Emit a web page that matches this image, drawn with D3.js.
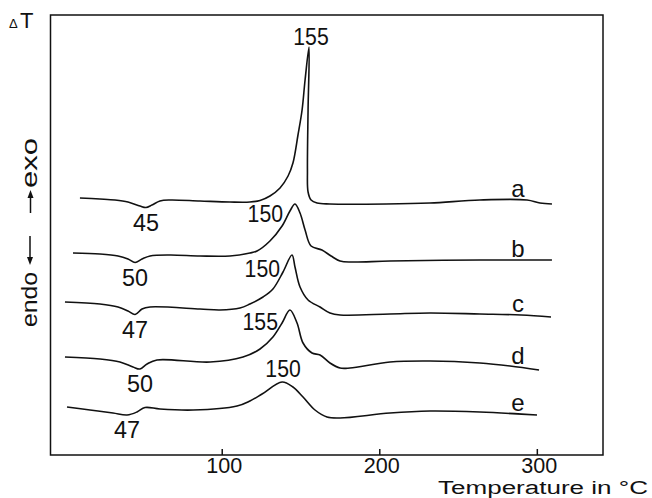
<!DOCTYPE html>
<html>
<head>
<meta charset="utf-8">
<script src="https://cdn.jsdelivr.net/npm/d3@7/dist/d3.min.js"></script>
<style>
  body { margin: 0; background: #fff; }
  svg text { font-family: "Liberation Sans", Arial, sans-serif; fill: #111; }
</style>
</head>
<body>
<div id="chart"></div>
<script>
var width = 652,
    height = 498;

// DTA traces: [temperature in °C, ΔT in arbitrary units incl. vertical offset]
var curveA = [[10,25.7],[22.7,25.6],[32.3,25.5],[40.5,25.3],[48.1,24.9],[51.9,24.75],[55.7,25.0],[60.8,25.4],
  [67.2,25.5],[86.2,25.4],[105.2,25.3],[117.9,25.3],[124.3,25.45],[130.6,25.9],[137.0,26.7],[142.1,27.9],
  [145.2,29.2],[148.4,32.0],[151.0,34.5],[152.9,37.5],[155.4,40.8],[154.8,34.5],[154.4,28.5],[154.8,26.3],
  [156.7,25.5],[160.5,25.2],[168.7,25.1],[204.3,25.1],[232.2,25.2],[263.9,25.5],[293.8,25.5],[302.0,25.2],[309.6,25.1]];
var curveB = [[5.6,20.2],[22.7,20.1],[34.2,19.9],[40.5,19.6],[45.0,19.25],[49.4,19.6],[54.5,19.9],[67.2,20.0],
  [86.2,19.9],[105.2,19.9],[117.9,20.2],[122.4,20.4],[130.6,21.4],[138.3,22.9],[143.3,24.4],[146.5,25.1],
  [149.7,24.2],[152.9,22.5],[156.7,20.9],[163.6,20.5],[169.4,19.9],[175.1,19.4],[182.7,19.3],[206.8,19.4],
  [263.9,19.5],[309.6,19.5]];
var curveC = [[0.5,15.3],[22.7,15.1],[34.2,14.8],[40.5,14.4],[45.0,14.05],[49.4,14.6],[54.5,14.8],[86.2,14.6],
  [98.9,14.5],[111.6,14.7],[117.9,15.1],[126.2,15.8],[132.5,16.6],[138.9,18.3],[144.6,20.0],[146.5,18.8],
  [149.7,16.8],[154.8,15.5],[162.4,14.8],[168.7,14.2],[175.1,14.0],[206.8,14.1],[232.2,14.2],[263.9,14.1],
  [290.0,14.0],[309.0,13.8]];
var curveD = [[0.5,9.8],[22.7,9.6],[35.4,9.3],[43.7,8.8],[48.1,8.6],[52.6,9.1],[58.9,9.5],[92.6,9.3],
  [113.5,9.8],[124.3,10.6],[132.5,11.8],[138.3,13.2],[143.3,14.5],[147.8,13.2],[151.6,11.2],[157.3,10.2],
  [162.4,10.0],[168.7,9.2],[175.1,8.7],[181.4,8.7],[206.8,9.3],[232.2,9.4],[263.9,9.2],[283.0,8.9],[301.4,8.5]];
var curveE = [[1.8,4.8],[16.4,4.5],[31.0,4.2],[39.9,4.0],[46.2,4.3],[51.3,4.75],[60.8,4.6],[81.8,4.5],
  [109.7,4.9],[117.9,5.4],[125.6,6.1],[138.3,7.3],[145.2,6.8],[151.6,5.8],[159.2,4.5],[166.8,3.8],
  [175.1,3.7],[206.8,4.2],[232.2,4.4],[263.9,4.3],[300.1,4.0]];

var curves = [curveA, curveB, curveC, curveD, curveE];
var curveNames = ["a", "b", "c", "d", "e"];
var peakLabels = ["155", "150", "150", "155", "150"];
var dipLabels = ["45", "50", "47", "50", "47"];
var xTicks = [100, 200, 300];

// label placement relative to the peak point [dx, dy, anchor]
var peakOffsets = [[2, -2, "middle"], [-12, 18, "end"], [-12, 22, "end"], [-12, 20, "end"], [1, -5, "middle"]];

var x = d3.scaleLinear().domain([-9, 342]).range([50, 603]);
var y = d3.scaleLinear().domain([0, 44]).range([455, 15]);

var svg = d3.select("#chart").append("svg")
    .attr("width", width)
    .attr("height", height);

// frame
svg.append("rect")
    .attr("x", 50.5).attr("y", 15)
    .attr("width", 552.5).attr("height", 440)
    .attr("fill", "none")
    .attr("stroke", "#111")
    .attr("stroke-width", 1.5);

// x axis with inward ticks
var xAxis = svg.append("g")
    .attr("transform", "translate(0,455)")
    .call(d3.axisBottom(x).tickValues(xTicks).tickSizeInner(-6).tickSizeOuter(0).tickPadding(2));
xAxis.select(".domain").remove();
xAxis.selectAll(".tick line").attr("stroke", "#111").attr("stroke-width", 1.5);
xAxis.selectAll(".tick text")
    .attr("font-size", 22)
    .attr("font-family", null)
    .attr("fill", "#111")
    .attr("dx", 2)
    .attr("textLength", 36)
    .attr("lengthAdjust", "spacingAndGlyphs");

svg.append("text")
    .attr("x", 438).attr("y", 494)
    .attr("font-size", 18)
    .attr("textLength", 210)
    .attr("lengthAdjust", "spacingAndGlyphs")
    .text("Temperature in °C");

// y axis annotation
svg.append("text").attr("x", 9).attr("y", 28).attr("font-size", 13).text("Δ");
svg.append("text").attr("x", 20).attr("y", 28).attr("font-size", 22).text("T");

svg.append("text")
    .attr("transform", "translate(37,188) rotate(-90)")
    .attr("font-size", 22)
    .attr("textLength", 50)
    .attr("lengthAdjust", "spacingAndGlyphs")
    .text("exo");
svg.append("text")
    .attr("transform", "translate(37,327) rotate(-90)")
    .attr("font-size", 22)
    .attr("textLength", 55)
    .attr("lengthAdjust", "spacingAndGlyphs")
    .text("endo");

// arrows
svg.append("line").attr("x1", 30.5).attr("x2", 30.5).attr("y1", 213).attr("y2", 196)
    .attr("stroke", "#111").attr("stroke-width", 1.5);
svg.append("path").attr("d", "M30.5,190 L27.5,198 L33.5,198 Z").attr("fill", "#111");
svg.append("line").attr("x1", 30).attr("x2", 30).attr("y1", 236).attr("y2", 258)
    .attr("stroke", "#111").attr("stroke-width", 1.5);
svg.append("path").attr("d", "M30,265 L27,257 L33,257 Z").attr("fill", "#111");

var line = d3.line()
    .x(function(d) { return x(d[0]); })
    .y(function(d) { return y(d[1]); })
    .curve(d3.curveCatmullRom.alpha(0.5));

function valueAt(data, t) {
    for (var i = data.length - 1; i > 0; i--) {
        var p = data[i - 1], q = data[i];
        if (t >= p[0] && t <= q[0]) {
            return p[1] + (q[1] - p[1]) * (t - p[0]) / (q[0] - p[0]);
        }
    }
    return data[data.length - 1][1];
}

curves.forEach(function(data, i) {
    svg.append("path")
        .datum(data)
        .attr("d", line)
        .attr("fill", "none")
        .attr("stroke", "#111")
        .attr("stroke-width", 1.6);

    var peak = data.filter(function(d) { return d[0] > 100; })
        .reduce(function(a, b) { return b[1] > a[1] ? b : a; });
    var dip = data.filter(function(d) { return d[0] < 70; })
        .reduce(function(a, b) { return b[1] < a[1] ? b : a; });

    var off = peakOffsets[i];
    svg.append("text")
        .attr("x", x(peak[0]) + off[0])
        .attr("y", y(peak[1]) + off[1])
        .attr("text-anchor", off[2])
        .attr("font-size", 24)
        .attr("textLength", peakLabels[i].length * 11.8)
        .attr("lengthAdjust", "spacingAndGlyphs")
        .text(peakLabels[i]);

    svg.append("text")
        .attr("x", x(dip[0]))
        .attr("y", y(dip[1]) + 23)
        .attr("text-anchor", "middle")
        .attr("font-size", 24)
        .attr("textLength", dipLabels[i].length * 13)
        .attr("lengthAdjust", "spacingAndGlyphs")
        .text(dipLabels[i]);

    var tName = 288;
    svg.append("text")
        .attr("x", x(tName))
        .attr("y", y(valueAt(data, tName)) - 3)
        .attr("text-anchor", "middle")
        .attr("font-size", 24)
        .text(curveNames[i]);
});
</script>
</body>
</html>
